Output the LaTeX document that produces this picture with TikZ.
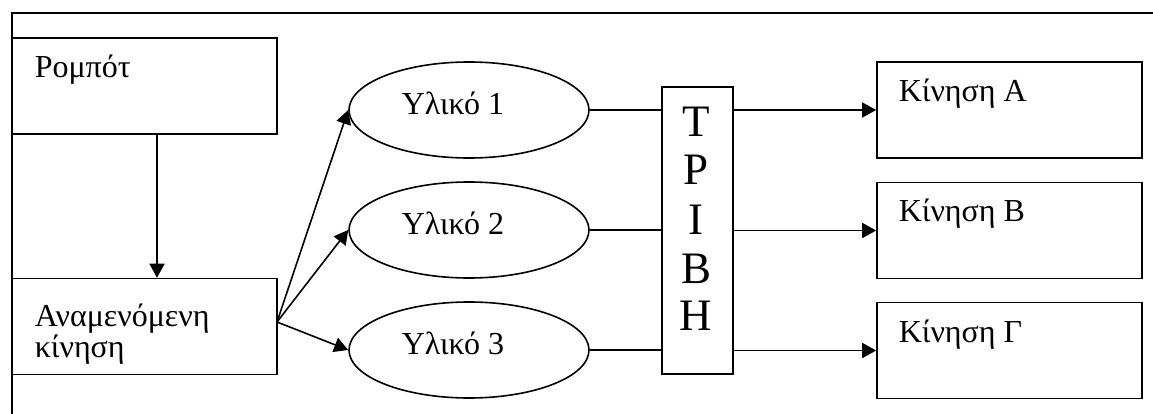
\documentclass[tikz,border=0pt]{standalone}
\usepackage{fontspec}
\setmainfont{Liberation Serif}
\usetikzlibrary{arrows.meta,shapes.geometric,calc}
\begin{document}
\begin{tikzpicture}[x=1pt,y=-1pt,
  line width=1.6pt,
  box/.style={draw, rectangle, inner sep=0pt, line width=1.6pt,
    minimum width=265pt, minimum height=96pt},
  blob/.style={draw, ellipse, inner sep=0pt, line width=1.6pt,
    minimum width=240pt, minimum height=96pt},
  txt/.style={inner sep=0pt, anchor=base west,
    font=\fontsize{32}{34}\selectfont},
  big/.style={inner sep=0pt, anchor=base,
    font=\fontsize{45}{48}\selectfont},
  arr/.style={-{Triangle[length=14pt,width=15pt]}, line width=1.6pt},
  wire/.style={line width=1.6pt}]
  \useasboundingbox (0,0) rectangle (1153,414);

  % outer frame (top and left edges)
  \draw (12,414) -- (12,13) -- (1153,13);

  % left column
  \node[box] (robot) at (144.5,86) {};
  \node[box] (expect) at (144.5,326.5) {};
  \node[txt] (trobot) at (34,78) {Ρομπότ};
  \node[txt] (texp1) at (34,326) {Αναμενόμενη};
  \node[txt] (texp2) at (34,357) {κίνηση};

  % materials
  \node[blob] (m1) at (469,110) {};
  \node[blob] (m2) at (469,230) {};
  \node[blob] (m3) at (469,350) {};
  \node[txt] (tm1) at (401,115) {Υλικό 1};
  \node[txt] (tm2) at (401,234) {Υλικό 2};
  \node[txt] (tm3) at (401,354) {Υλικό 3};

  % friction block
  \node[draw, rectangle, inner sep=0pt, minimum width=71pt, minimum height=287pt]
    (fric) at (697.5,230.5) {};
  \node[big] (l1) at (696,137) {Τ};
  \node[big] (l2) at (696,185) {Ρ};
  \node[big] (l3) at (696,234) {Ι};
  \node[big] (l4) at (696,283) {Β};
  \node[big] (l5) at (696,330) {Η};

  % resulting motions
  \node[box] (ka) at (1009.5,110) {};
  \node[box] (kb) at (1009.5,230.5) {};
  \node[box] (kc) at (1009.5,350.5) {};
  \node[txt] (tka) at (898,102) {Κίνηση Α};
  \node[txt] (tkb) at (898,222) {Κίνηση Β};
  \node[txt] (tkc) at (898,342) {Κίνηση Γ};

  % connectors
  \draw[arr] ($(robot.south)+(12.5,0)$) -- ($(expect.north)+(12.5,0)$);
  \coordinate (fan) at (277,322);
  \draw[arr] (fan) -- (m1.west);
  \draw[arr] (fan) -- (m2.west);
  \draw[arr] (fan) -- (m3.west);

  \draw[wire] (m1.east) -- (m1.east -| fric.west);
  \draw[wire] (m2.east) -- (m2.east -| fric.west);
  \draw[wire] (m3.east) -- (m3.east -| fric.west);

  \draw[arr] (ka.west -| fric.east) -- (ka.west);
  \draw[arr] (kb.west -| fric.east) -- (kb.west);
  \draw[arr] (kc.west -| fric.east) -- (kc.west);
\end{tikzpicture}
\end{document}
